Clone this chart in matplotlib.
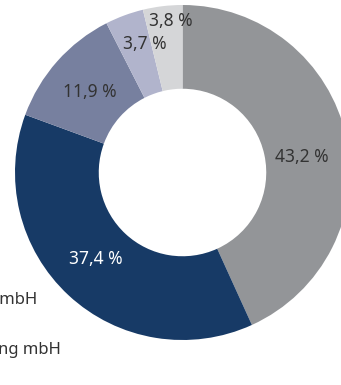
import numpy as np
import matplotlib
matplotlib.use("Agg")
import matplotlib.pyplot as plt

plt.rcParams['font.family'] = ['Noto Sans', 'DejaVu Sans']

# Data
values = [43.2, 37.4, 11.9, 3.7, 3.8]
value_labels = ["43,2 %", "37,4 %", "11,9 %", "3,7 %", "3,8 %"]
colors = ["#939598", "#173a66", "#77809f", "#b1b4cc", "#d5d6d8"]
label_colors = ["#333333", "#ffffff", "#333333", "#333333", "#333333"]
legend_labels = ["Verwaltungs GmbH", "Beteiligungsverwaltung mbH"]

# label placement (fraction of radius, angular tweak in degrees)
label_dist = [0.72, 0.73, 0.73, 0.80, 0.91]
label_dang = [-4.8, -2.4, 0.6, -3.8, -2.5]

W, H = 341, 385
fig = plt.figure(figsize=(W / 100, H / 100), dpi=100)
R = 167.5
cx, cy = 182.5, 172.5
ax = fig.add_axes([(cx - R) / W, (H - cy - R) / H, 2 * R / W, 2 * R / H])
ax.axis('off')

wedges, _ = ax.pie(values, colors=colors, startangle=90, counterclock=False,
                   radius=1, wedgeprops=dict(width=0.5, linewidth=0))
ax.set_xlim(-1, 1)
ax.set_ylim(-1, 1)

for w, lab, col, d, da in zip(wedges, value_labels, label_colors, label_dist, label_dang):
    ang = np.deg2rad((w.theta1 + w.theta2) / 2 + da)
    ax.text(d * np.cos(ang), d * np.sin(ang), lab, ha='center', va='center',
            fontsize=12.5, color=col, fontweight='light')

# clipped legend text on the left
fig.text(37 / W, 1 - 299.5 / H, legend_labels[0], ha='right', va='center',
         fontsize=12, color='#333333', fontweight='light')
fig.text(61 / W, 1 - 350.5 / H, legend_labels[1], ha='right', va='center',
         fontsize=12, color='#333333', fontweight='light')

fig.savefig("out.png", dpi=100)
